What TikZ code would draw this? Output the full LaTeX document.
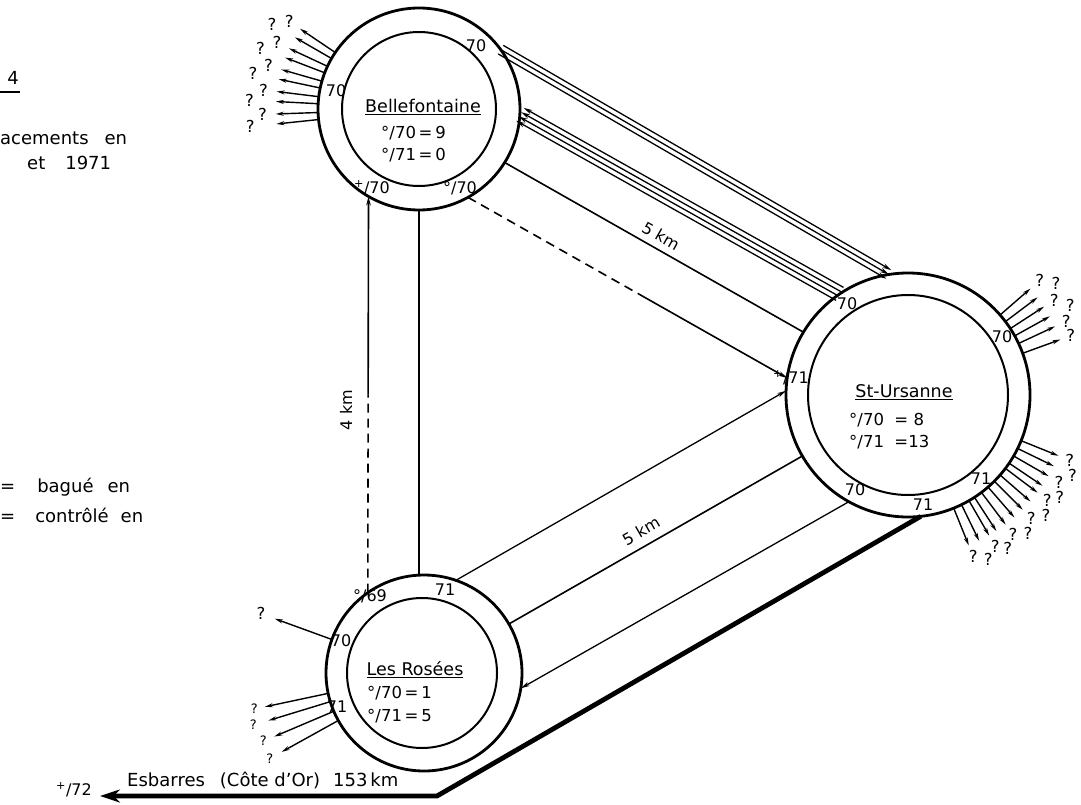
\documentclass[tikz,border=0pt]{standalone}
\usepackage{fontspec}
\setmainfont{DejaVu Sans}
\usetikzlibrary{arrows.meta,calc}
\begin{document}
\begin{tikzpicture}[x=1pt,y=-1pt,
  ring/.style={circle,draw,line width=2.8pt,inner sep=0pt,outer sep=0pt},
  inring/.style={circle,draw,line width=2pt,inner sep=0pt,outer sep=0pt},
  conn/.style={line width=1.6pt},
  thinconn/.style={line width=1.3pt},
  tipa/.style={-{Stealth[length=9pt,width=4.5pt]}},
  dashpat/.style={dash pattern=on 9pt off 6pt},
  fan/.style={line width=1.4pt,-{Stealth[length=8pt,width=4pt]}},
  ringlbl/.style={font=\fontsize{16}{16}\selectfont,inner sep=0pt},
  title/.style={font=\fontsize{17.5}{17.5}\selectfont,inner sep=0pt},
  countlbl/.style={font=\fontsize{16.5}{16.5}\selectfont,inner sep=0pt,anchor=west},
  qm/.style={font=\fontsize{16.5}{16.5}\selectfont,inner sep=0pt},
  qms/.style={font=\fontsize{13}{13}\selectfont,inner sep=0pt},
  plain/.style={font=\fontsize{18}{18}\selectfont,inner sep=0pt,anchor=west},
  dist/.style={font=\fontsize{16}{16}\selectfont,inner sep=0pt},
]
\useasboundingbox (0,0) rectangle (1081,805);
\fill[white] (0,0) rectangle (1081,805);

% ---- circles
\node[ring,minimum size=202pt] (B) at (419,109) {};
\node[inring,minimum size=154pt] (Bi) at (419,109) {};
\node[ring,minimum size=244pt] (S) at (908,395) {};
\node[inring,minimum size=200pt] (Si) at (908,395) {};
\node[ring,minimum size=196pt] (L) at (424,673) {};
\node[inring,minimum size=150pt] (Li) at (422,673) {};

% ---- centre texts
\node[title] (Bname) at (423,107) {\underline{Bellefontaine}};
\node[countlbl] (Bc70) at (381,133) {°/70\,=\,9};
\node[countlbl] (Bc71) at (381,155) {°/71\,=\,0};
\node[title] (Sname) at (904,392) {\underline{St-Ursanne}};
\node[countlbl] (Sc70) at (849,420) {°/70\ \ =\ 8};
\node[countlbl] (Sc71) at (849,442) {°/71\ \ =13};
\node[title] (Lname) at (415,670) {\underline{Les Rosées}};
\node[countlbl] (Lc70) at (367,693) {°/70\,=\,1};
\node[countlbl] (Lc71) at (367,716) {°/71\,=\,5};

% ---- ring labels
\node[ringlbl] (b1) at (476,46) {70};
\node[ringlbl] (b2) at (336,91) {70};
\node[ringlbl] (b3) at (372,188) {\textsuperscript{+}/70};
\node[ringlbl] (b4) at (460,188) {°/70};
\node[ringlbl] (s1) at (847,304) {70};
\node[ringlbl] (s2) at (1002,337) {70};
\node[ringlbl] (s3) at (791,378) {\textsuperscript{+}/71};
\node[ringlbl] (s4) at (855,490) {70};
\node[ringlbl] (s5) at (923,505) {71};
\node[ringlbl] (s6) at (981,479) {71};
\node[ringlbl] (l1) at (370,596) {°/69};
\node[ringlbl] (l2) at (445,590) {71};
\node[ringlbl] (l3) at (341,641) {70};
\node[ringlbl] (l4) at (337,707) {71};

% ---- connectors Bellefontaine -> St-Ursanne (3)
\foreach \dx/\dy in {-2.5/4.3, 0/0, 2.5/-4.3}{
  \draw[thinconn,tipa] ($(B.36)+(\dx,\dy)$) -- ($(S.99)+(\dx,\dy)$);
}
% ---- connectors St-Ursanne -> Bellefontaine (4)
\foreach \dx/\dy in {-3.75/6.45, -1.25/2.15, 1.25/-2.15, 3.75/-6.45}{
  \draw[thinconn,tipa] ($(S.124)+(\dx,\dy)$) -- ($(B.-3)+(\dx,\dy)$);
}
% ---- 5 km line
\draw[conn] (B.-32) -- (S.149);
\node[dist,rotate=-29.6] (km5a) at (661,236) {5 km};
% ---- dashed/solid Bellefontaine -> St-Ursanne
\coordinate (Dm) at ($(B.-61)!0.55!(S.172)$);
\draw[conn,dashpat] (B.-61) -- (Dm);
\draw[conn,tipa] (Dm) -- (S.172);

% ---- verticals
\coordinate (Vm) at ($(L.125)!0.5!(B.240)$);
\draw[conn,dashpat] (L.125) -- (Vm);
\draw[conn,tipa] (Vm) -- (B.240);
\node[dist,rotate=90] (km4) at (346,410) {4 km};
\draw[conn] (B.270) -- (B.270 |- L.north);

% ---- Les Rosees <-> St-Ursanne
\draw[thinconn,tipa] (L.71) -- (S.178);
\draw[conn] (L.30) -- (S.210);
\node[dist,rotate=29.8] (km5b) at (641,531) {5 km};
\draw[thinconn,tipa] (S.241) -- (L.-9);

% ---- thick line to Esbarres
\coordinate (corner) at (437,796);
\coordinate (esb) at (100,796);
\draw[line width=4.8pt,-{Stealth[length=20pt,width=13pt]}] (S.-84) -- (corner) -- (esb);
\node[plain] (esbtxt) at (127,780) {Esbarres\hspace{15pt}(Côte d'Or)\hspace{13pt}153\,km};
\node[font=\fontsize{16}{16}\selectfont,inner sep=0pt] (p72) at (74,790) {\textsuperscript{+}/72};

% ---- fans of ? arrows
\foreach \a/\q in {146/1.55,150/1.68,155/1.55,159/1.68,164/1.55,168/1.68,173/1.55,177/1.68,182/1.55,186/1.68}{
  \draw[fan] (B.\a) -- ($(B.center)!1.42!(B.\a)$);
  \node[qm] at ($(B.center)!\q!(B.\a)$) {?};
}
\foreach \a/\q in {41/1.43,37/1.52,33/1.43,29/1.52,25/1.43,20/1.42}{
  \draw[fan] (S.\a) -- ($(S.center)!1.33!(S.\a)$);
  \node[qm] at ($(S.center)!\q!(S.\a)$) {?};
}
\foreach \a/\q in {-22/1.43,-26/1.5,-30/1.43,-34/1.5,-37/1.43,-41/1.5,-45/1.43,-49/1.5,-53/1.43,-57/1.5,-60/1.43,-64/1.5,-68/1.43}{
  \draw[fan] (S.\a) -- ($(S.center)!1.33!(S.\a)$);
  \node[qm] at ($(S.center)!\q!(S.\a)$) {?};
}
\draw[fan] (L.160) -- ($(L.center)!1.62!(L.160)$);
\node[qm] at ($(L.center)!1.77!(L.160)$) {?};
\foreach \a/\q in {192/1.77,197/1.82,203/1.78,209/1.8}{
  \draw[fan] (L.\a) -- ($(L.center)!1.66!(L.\a)$);
  \node[qms] at ($(L.center)!\q!(L.\a)$) {?};
}

% ---- top-left texts
\node[font=\fontsize{18}{18}\selectfont,inner sep=0pt] (fig) at (13,78) {4};
\draw[line width=1.3pt] (0,92) -- (20,92);
\node[plain] (t1) at (0,138) {acements\hspace{16pt}en};
\node[plain] (t2) at (27,163) {et\hspace{20pt}1971};
\node[plain] (lg1) at (0,487) {=\hspace{22pt}bagué\hspace{14pt}en};
\node[plain] (lg2) at (0,515) {=\hspace{20pt}contrôlé\hspace{12pt}en};
\end{tikzpicture}
\end{document}
